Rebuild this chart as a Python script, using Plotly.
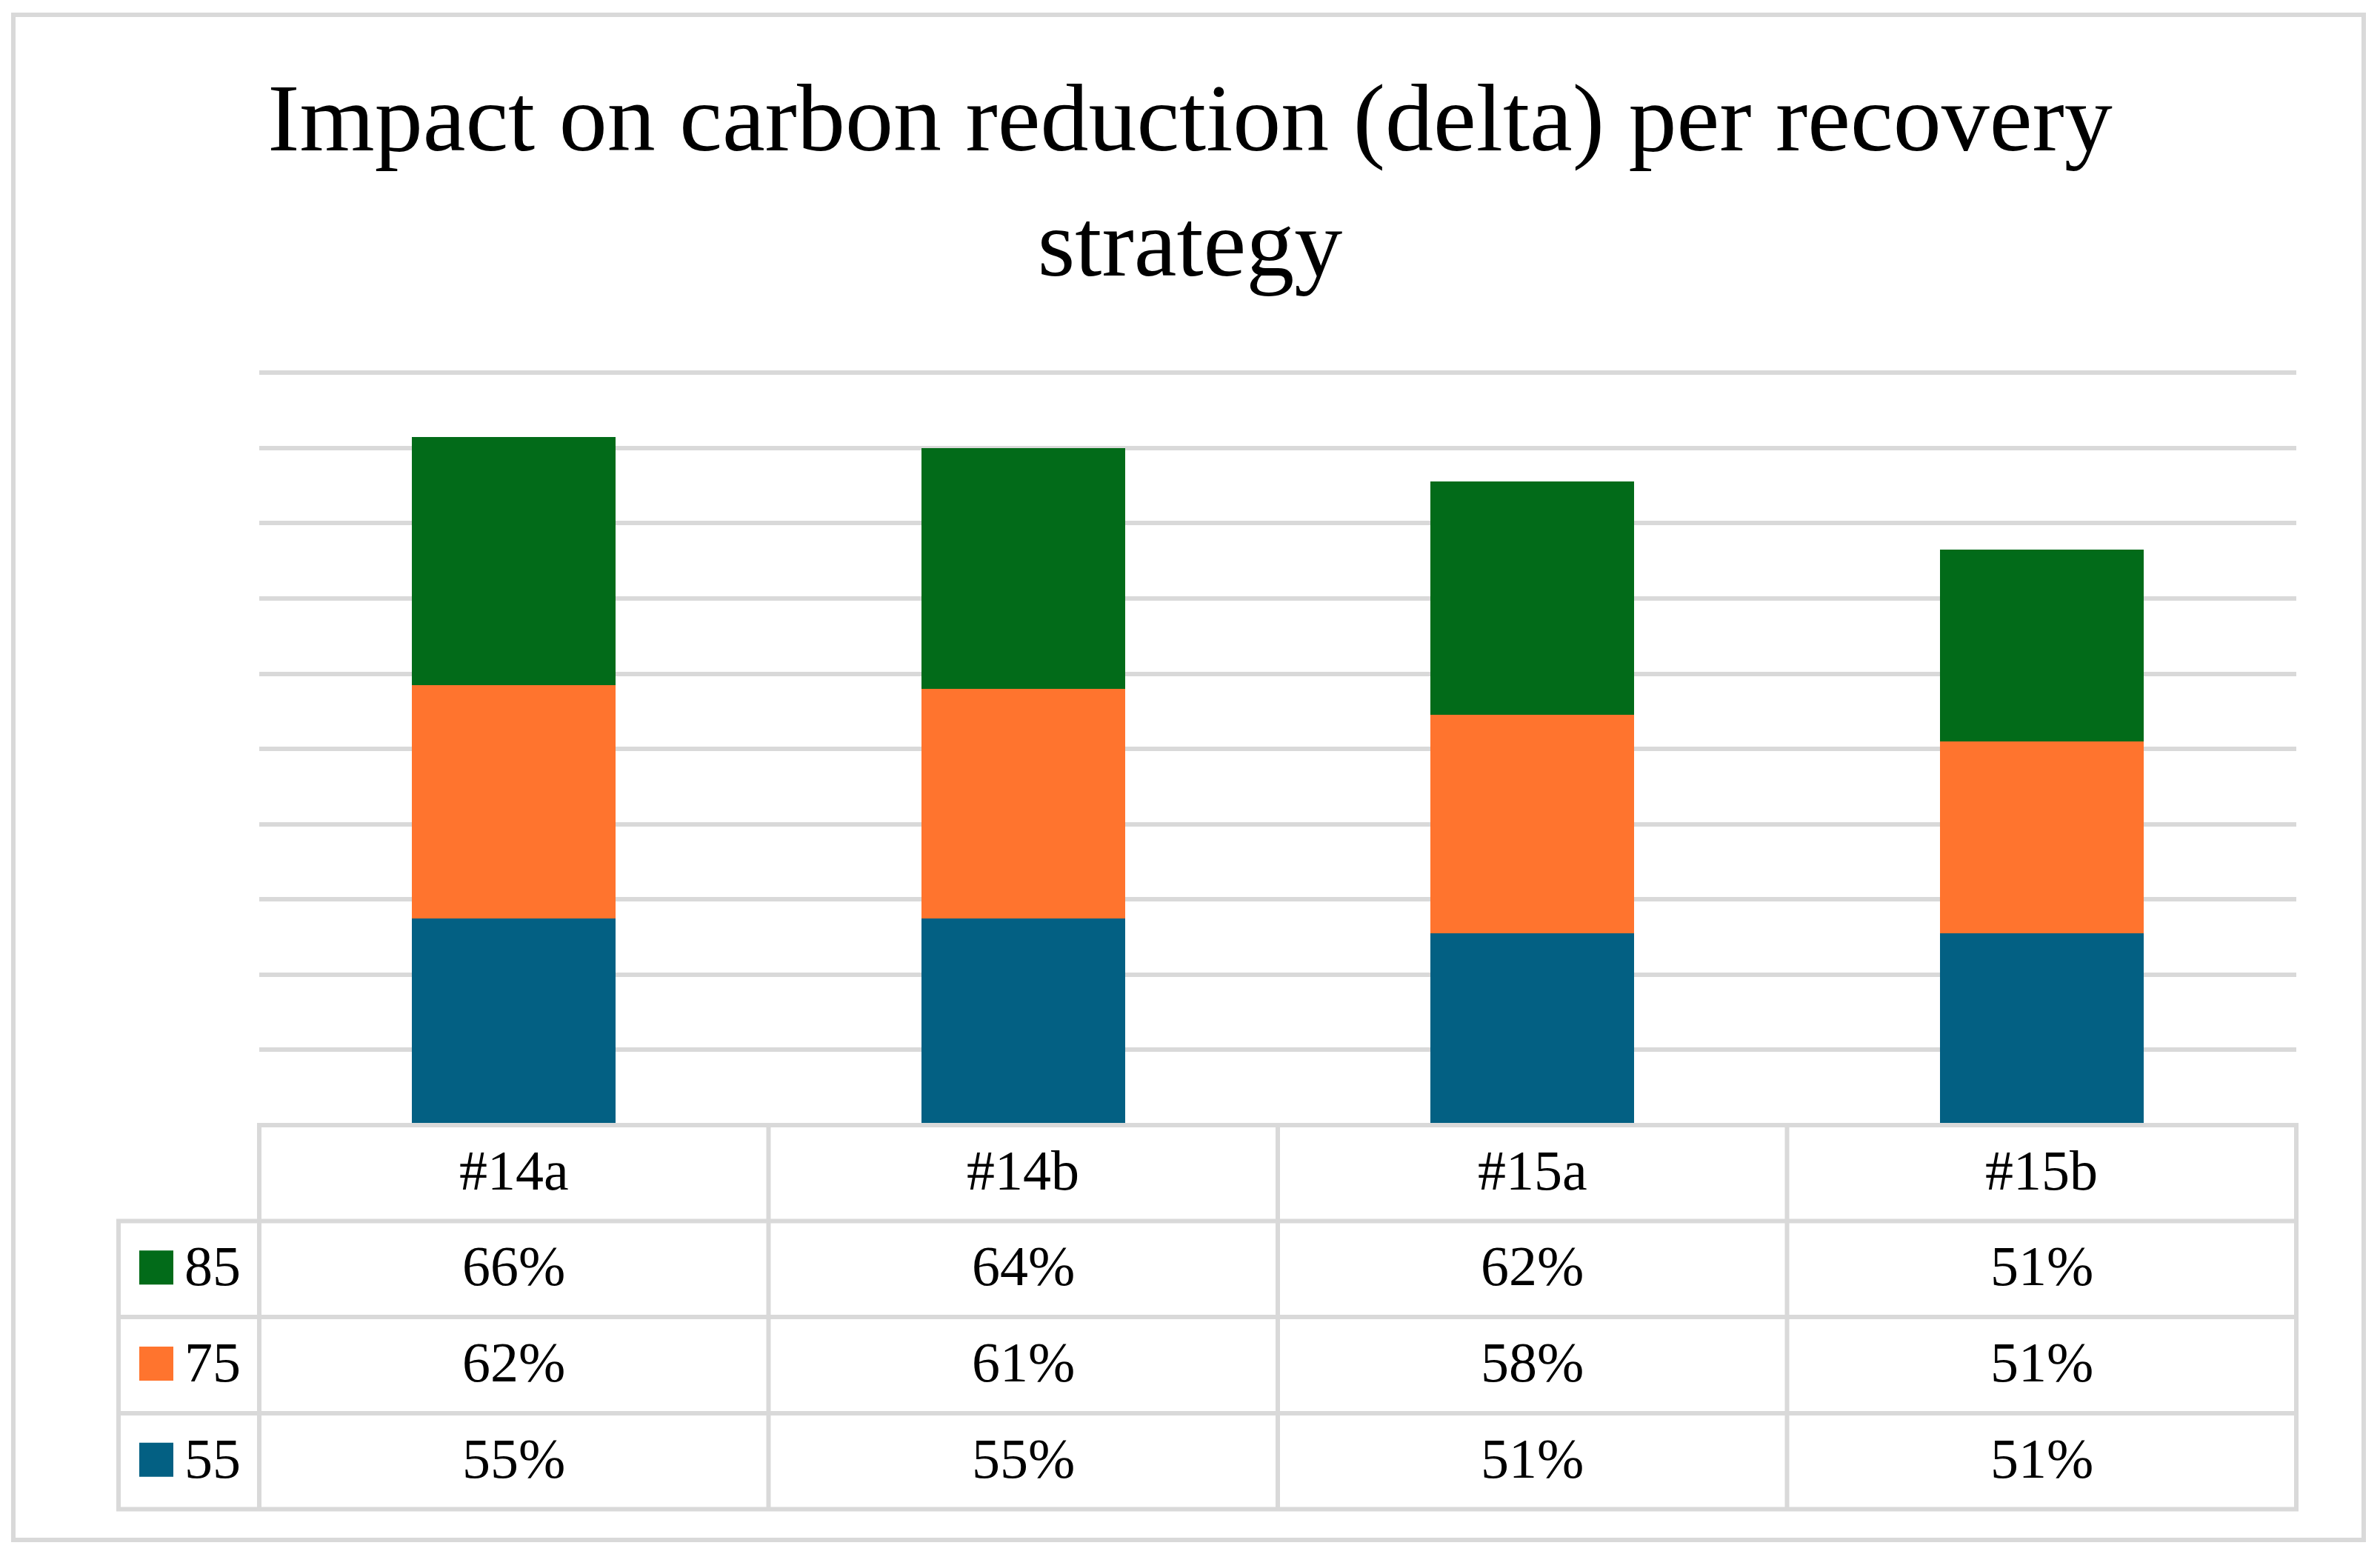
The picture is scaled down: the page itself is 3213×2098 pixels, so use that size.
import plotly.graph_objects as go

# ---- data ----
categories = ["#14a", "#14b", "#15a", "#15b"]
series_names = ["55", "75", "85"]
values_55 = [55, 55, 51, 51]
values_75 = [62, 61, 58, 51]
values_85 = [66, 64, 62, 51]
colors = {"55": "#036083", "75": "#FF742E", "85": "#026B19"}

OFF = 8  # page body margin
W, H = 3213 - 2 * OFF, 2098 - 2 * OFF
# plot area in screen pixels
PL, PR, PT, PB = 350, 3100, 493, 1519
ML, MT = PL - OFF, PT - OFF
MR = W - (PR - OFF)
MB = H - (PB - OFF)
PW = PR - PL
PH = PB - PT
FONT = "Liberation Serif"
GRID = "#D9D9D9"


def px_x(X):
    return (X - PL) / PW


def px_y(Y):
    return (PB - Y) / PH


fig = go.Figure()
for name, vals in zip(series_names, [values_55, values_75, values_85]):
    fig.add_trace(go.Bar(x=categories, y=vals, name=name,
                         marker=dict(color=colors[name], line=dict(width=0)),
                         showlegend=False, hoverinfo="x+y+name"))

shapes = []
ann = []

row_lines = [PB, 1648.5, 1778, 1908, 2037.5]
left_x = 160
col_x = [350, 1037.5, 1725, 2412.5, 3100]
lw = 6


def line(x0, y0, x1, y1, color=GRID, width=lw):
    shapes.append(dict(type="line", xref="paper", yref="paper",
                       x0=px_x(x0), y0=px_y(y0), x1=px_x(x1), y1=px_y(y1),
                       line=dict(color=color, width=width), layer="above"))


line(col_x[0] - lw / 2, row_lines[0], col_x[-1] + lw / 2, row_lines[0])
for yy in row_lines[1:]:
    line(left_x - lw / 2, yy, col_x[-1] + lw / 2, yy)
line(left_x, row_lines[1], left_x, row_lines[-1])
for xx in col_x:
    line(xx, row_lines[0], xx, row_lines[-1])

# outer border
shapes.append(dict(type="rect", xref="paper", yref="paper",
                   x0=px_x(18), y0=px_y(2079), x1=px_x(3191), y1=px_y(20),
                   line=dict(color=GRID, width=6), fillcolor="rgba(0,0,0,0)", layer="below"))

tfont = dict(family=FONT, size=76, color="black")

hdr_c = (row_lines[0] + row_lines[1]) / 2 - 4
for c in categories:
    ann.append(dict(x=c, xref="x", y=px_y(hdr_c), yref="paper", text=c,
                    showarrow=False, xanchor="center", yanchor="middle", font=tfont))

table_rows = [("85", values_85), ("75", values_75), ("55", values_55)]
for i, (name, vals) in enumerate(table_rows):
    rc = (row_lines[i + 1] + row_lines[i + 2]) / 2
    for c, v in zip(categories, vals):
        ann.append(dict(x=c, xref="x", y=px_y(rc - 4), yref="paper", text=f"{v}%",
                        showarrow=False, xanchor="center", yanchor="middle", font=tfont))
    shapes.append(dict(type="rect", xref="paper", yref="paper",
                       x0=px_x(188), x1=px_x(234), y0=px_y(rc - 2 + 23), y1=px_y(rc - 2 - 23),
                       fillcolor=colors[name], line=dict(width=0), layer="above"))
    ann.append(dict(x=px_x(247), xref="paper", y=px_y(rc - 4), yref="paper", text=name,
                    showarrow=False, xanchor="left", yanchor="middle", font=tfont))

fig.update_layout(
    width=W, height=H,
    margin=dict(l=ML, r=MR, t=MT, b=MB, pad=0),
    paper_bgcolor="white", plot_bgcolor="white",
    barmode="stack", bargap=0.6,
    title=dict(text="Impact on carbon reduction (delta) per recovery<br>strategy",
               x=0.5, xref="container", xanchor="center",
               y=1 - 195 / H, yref="container", yanchor="top",
               font=dict(family=FONT, size=130, color="black")),
    xaxis=dict(showticklabels=False, ticks="", showgrid=False, zeroline=False,
               showline=False, range=[-0.5, 3.5]),
    yaxis=dict(range=[0, 202], dtick=20, tick0=0, showticklabels=False, ticks="",
               showgrid=True, gridcolor=GRID, gridwidth=6, zeroline=False, showline=False),
    shapes=shapes, annotations=ann,
    font=dict(family=FONT, color="black"),
)

fig.write_html("out.html")
